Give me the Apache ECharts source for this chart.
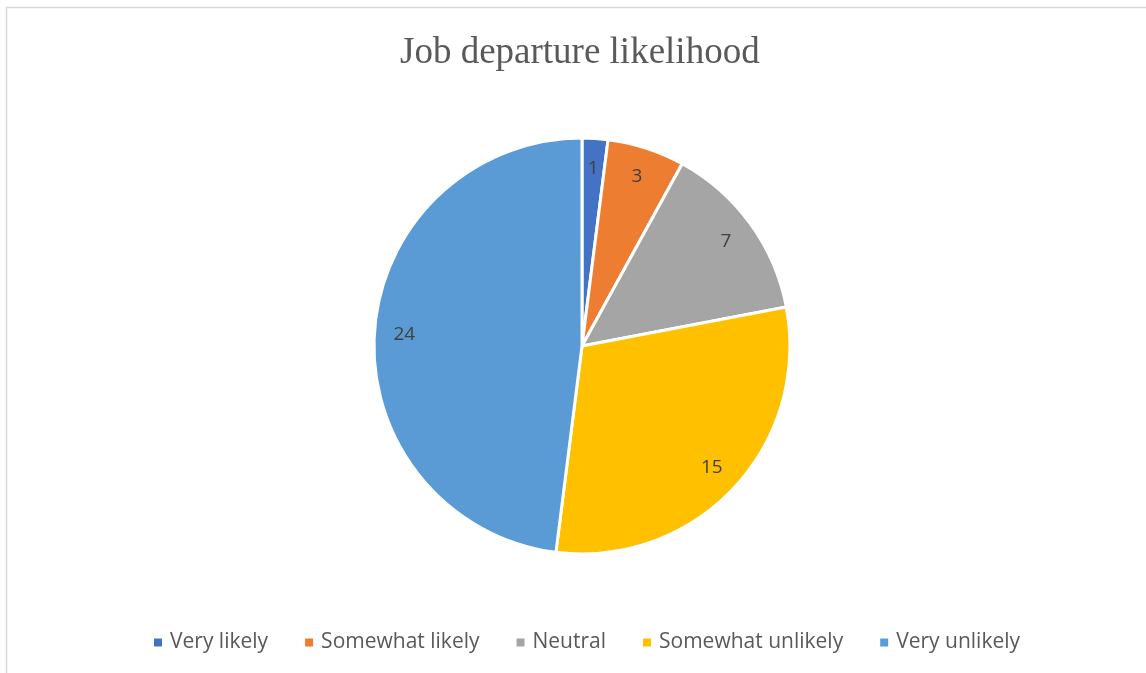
<!DOCTYPE html>
<html>
<head>
<meta charset="utf-8">
<title>Job departure likelihood</title>
<script src="https://cdn.jsdelivr.net/npm/echarts@6/dist/echarts.min.js"></script>
<style>
  html, body { margin: 0; padding: 0; background: #ffffff; }
  #chart { width: 1146px; height: 673px; }
</style>
</head>
<body>
<div id="chart"></div>
<script>
// Survey responses: how likely respondents are to leave their job
const categories = ['Very likely', 'Somewhat likely', 'Neutral', 'Somewhat unlikely', 'Very unlikely'];
const counts = [1, 3, 7, 15, 24];

const palette = ['#4472C4', '#ED7D31', '#A5A5A5', '#FFC000', '#5B9BD5'];
const center = [582, 346];
const outerR = 208;

const pieData = categories.map((name, i) => ({ name: name, value: counts[i] }));

const chart = echarts.init(document.getElementById('chart'), null, { renderer: 'canvas' });

chart.setOption({
  backgroundColor: '#ffffff',
  animation: false,
  color: palette,
  title: {
    text: 'Job departure likelihood',
    left: 400,
    top: 35,
    padding: 0,
    textStyle: {
      fontFamily: 'Liberation Serif',
      fontSize: 37,
      fontWeight: 'normal',
      color: '#595959'
    }
  },
  legend: {
    data: categories,
    left: 147,
    top: 627,
    icon: 'rect',
    itemWidth: 10,
    itemHeight: 10,
    itemGap: 35,
    selectedMode: false,
    textStyle: {
      fontFamily: 'Open Sans',
      fontSize: 21,
      color: '#595959',
      padding: [0, 0, 0, 2]
    }
  },
  graphic: [{
    type: 'rect',
    silent: true,
    shape: { x: 6.5, y: 7.5, width: 1200, height: 720 },
    style: { fill: 'none', stroke: '#d9d9d9', lineWidth: 1.5 }
  }],
  series: [
    {
      type: 'pie',
      center: center,
      radius: [0, outerR],
      startAngle: 90,
      clockwise: true,
      data: pieData,
      label: { show: false },
      labelLine: { show: false },
      itemStyle: { borderColor: '#ffffff', borderWidth: 3 },
      emphasis: { disabled: true }
    },
    {
      // transparent ring that carries the value labels near the rim
      type: 'pie',
      center: center,
      radius: [142, outerR],
      startAngle: 90,
      clockwise: true,
      silent: true,
      data: pieData,
      itemStyle: { color: 'rgba(0,0,0,0)' },
      label: {
        show: true,
        position: 'inside',
        formatter: '{c}',
        fontFamily: 'Open Sans',
        fontSize: 19,
        color: '#404040'
      },
      labelLine: { show: false },
      emphasis: { disabled: true }
    }
  ]
});
</script>
</body>
</html>
